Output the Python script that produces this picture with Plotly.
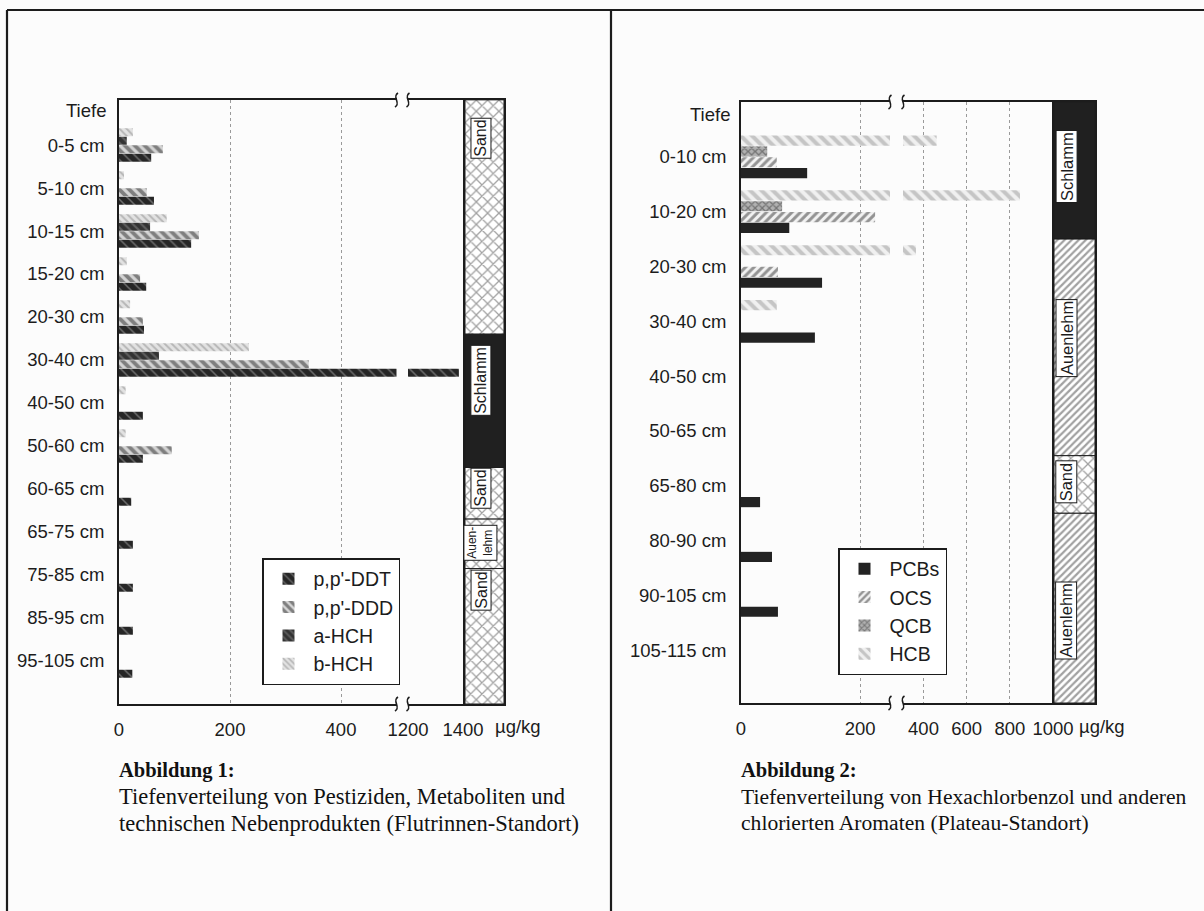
import plotly.graph_objects as go

W, H = 1204, 911

# ---------------- data: left chart (Abbildung 1) ----------------
depth_left = ["0-5 cm", "5-10 cm", "10-15 cm", "15-20 cm", "20-30 cm", "30-40 cm",
              "40-50 cm", "50-60 cm", "60-65 cm", "65-75 cm", "75-85 cm", "85-95 cm",
              "95-105 cm"]
ddt   = [58, 63, 130, 49, 45, 1385, 43, 43, 22, 25, 25, 25, 24]
ddd   = [79, 50, 144, 38, 43, 342, 0, 95, 0, 0, 0, 0, 0]
a_hch = [14, 0, 56, 0, 0, 72, 0, 0, 0, 0, 0, 0, 0]
b_hch = [25, 9, 86, 14, 20, 234, 12, 12, 0, 0, 0, 0, 0]

# soil layers left (in depth-category units)
strata_left_names  = ["Sand", "Schlamm", "Sand", "Auen-<br>lehm", "Sand"]
strata_left_kind   = ["Sand", "Schlamm", "Sand", "Sand", "Sand"]
strata_left_top    = [-1.05, 4.4, 7.5, 8.7, 9.85]
strata_left_bottom = [4.4, 7.5, 8.7, 9.85, 13.0]
strata_left_label  = [-0.16, 5.47, 7.98, 9.26, 10.35]

# ---------------- data: right chart (Abbildung 2) ----------------
depth_right = ["0-10 cm", "10-20 cm", "20-30 cm", "30-40 cm", "40-50 cm", "50-65 cm",
               "65-80 cm", "80-90 cm", "90-105 cm", "105-115 cm"]
pcbs = [111, 81, 136, 124, 0, 0, 32, 52, 62, 0]
ocs  = [60, 225, 62, 0, 0, 0, 0, 0, 0, 0]
qcb  = [44, 69, 0, 0, 0, 0, 0, 0, 0, 0]
hcb  = [461, 847, 365, 60, 0, 0, 0, 0, 0, 0]

strata_right_names  = ["Schlamm", "Auenlehm", "Sand", "Auenlehm"]
strata_right_kind   = ["Schlamm", "Auenlehm", "Sand", "Auenlehm"]
strata_right_top    = [-1.0, 1.5, 5.45, 6.5]
strata_right_bottom = [1.5, 5.45, 6.5, 9.96]
strata_right_label  = [0.18, 3.30, 5.93, 8.45]

# ---------------- styles ----------------
INK = "#1c1c1c"
PAPER = "#fcfcfc"
FONT = "Liberation Sans"
SERIF = "Liberation Serif"

styles_left = {
    "p,p'-DDT": dict(color="#262626", pattern=dict(shape="\\", fgcolor="#b4b4b4", size=7, solidity=0.22, fillmode="overlay")),
    "p,p'-DDD": dict(color="#d4d4d4", pattern=dict(shape="\\", fgcolor="#2a2a2a", size=7, solidity=0.55, fillmode="overlay")),
    "a-HCH":    dict(color="#333333", pattern=dict(shape="\\", fgcolor="#8c8c8c", size=6, solidity=0.35, fillmode="overlay")),
    "b-HCH":    dict(color="#e2e2e2", pattern=dict(shape="\\", fgcolor="#8a8a8a", size=5, solidity=0.4, fillmode="overlay")),
}
styles_right = {
    "PCBs": dict(color="#232323"),
    "OCS":  dict(color="#f2f2f2", pattern=dict(shape="/", fgcolor="#333333", size=6, solidity=0.5, fillmode="overlay")),
    "QCB":  dict(color="#b0b0b0", pattern=dict(shape="x", fgcolor="#383838", size=5, solidity=0.45, fillmode="overlay")),
    "HCB":  dict(color="#f0f0f0", pattern=dict(shape="\\", fgcolor="#9a9a9a", size=8, solidity=0.5, fillmode="overlay")),
}
strata_style = {
    "Sand":     dict(bg="#ffffff", shape="x", fg="#111111", size=8, sol=0.3),
    "Schlamm":  dict(bg="#202020", shape="", fg="#202020", size=8, sol=0.3),
    "Auenlehm": dict(bg="#ffffff", shape="/", fg="#111111", size=5, sol=0.45),
}


def px(p):
    return p / W


def py(p):
    return 1 - p / H


fig = go.Figure()

# ---- left bars (two segments of a broken axis) ----
left_series = [("b-HCH", b_hch), ("a-HCH", a_hch), ("p,p'-DDD", ddd), ("p,p'-DDT", ddt)]
for xa, show in (("x", True), ("x2", False)):
    for name, vals in left_series:
        st = styles_left[name]
        fig.add_trace(go.Bar(
            y=depth_left, x=vals, orientation="h", name=name, xaxis=xa, yaxis="y",
            marker=dict(color=st["color"], pattern=st.get("pattern"), line=dict(width=0)),
            showlegend=show, legend="legend", hoverinfo="skip"))

# ---- right bars ----
right_series = [("HCB", hcb), ("QCB", qcb), ("OCS", ocs), ("PCBs", pcbs)]
for xa, show in (("x4", True), ("x5", False)):
    for name, vals in right_series:
        st = styles_right[name]
        fig.add_trace(go.Bar(
            y=depth_right, x=vals, orientation="h", name=name, xaxis=xa, yaxis="y2",
            marker=dict(color=st["color"], pattern=st.get("pattern"), line=dict(width=0)),
            showlegend=show, legend="legend2", hoverinfo="skip"))


# ---- strata columns ----
def strata_trace(kinds, tops, bottoms, xa, ya):
    return go.Bar(
        x=[0] * len(kinds), base=tops, y=[b - t for t, b in zip(tops, bottoms)],
        width=1.0, xaxis=xa, yaxis=ya, showlegend=False, hoverinfo="skip",
        marker=dict(
            color=[strata_style[k]["bg"] for k in kinds],
            line=dict(width=1, color=INK),
            pattern=dict(
                shape=[strata_style[k]["shape"] for k in kinds],
                fgcolor=[strata_style[k]["fg"] for k in kinds],
                size=[strata_style[k]["size"] for k in kinds],
                solidity=[strata_style[k]["sol"] for k in kinds],
                fillmode="overlay")))


fig.add_trace(strata_trace(strata_left_kind, strata_left_top, strata_left_bottom, "x3", "y3"))
fig.add_trace(strata_trace(strata_right_kind, strata_right_top, strata_right_bottom, "x6", "y6"))

# ---------------- axes ----------------
tickfont = dict(family=FONT, size=18.5, color=INK)
common_x = dict(showline=True, linewidth=2, linecolor=INK, mirror=True, zeroline=False,
                showgrid=True, gridcolor="#9a9a9a", griddash="dot", gridwidth=1.2,
                tickfont=tickfont, ticks="", ticklabelstandoff=8, automargin=False)
strata_x = dict(range=[-0.5, 0.5], showline=True, linewidth=2, linecolor=INK, mirror=True,
                showgrid=False, zeroline=False, showticklabels=False, automargin=False)

yl_dom = [py(704), py(100)]
yr_dom = [py(703), py(102)]

fig.update_layout(
    xaxis=dict(domain=[px(119), px(396.5)], range=[0, 500], anchor="y",
               tickvals=[0, 200, 400], **common_x),
    xaxis2=dict(domain=[px(408), px(463)], range=[1200, 1400], anchor="y",
                tickvals=[1200, 1400], **common_x),
    xaxis3=dict(domain=[px(465), px(504)], anchor="y3", **strata_x),
    yaxis=dict(domain=yl_dom, anchor="x", type="category", categoryorder="array",
               categoryarray=depth_left, range=[13.0, -1.047], showline=True,
               linewidth=2, linecolor=INK, showgrid=False, zeroline=False, ticks="",
               tickfont=tickfont, ticklabelstandoff=9, automargin=False),
    yaxis3=dict(domain=yl_dom, anchor="x3", range=[13.0, -1.047], showline=True,
                linewidth=2, linecolor=INK, mirror=True, showgrid=False,
                zeroline=False, showticklabels=False, automargin=False),
    xaxis4=dict(domain=[px(741), px(890)], range=[0, 250], anchor="y2",
                tickvals=[0, 200], **common_x),
    xaxis5=dict(domain=[px(903), px(1053)], range=[305, 1000], anchor="y2",
                tickvals=[400, 600, 800, 1000], **common_x),
    xaxis6=dict(domain=[px(1054), px(1095)], anchor="y6", **strata_x),
    yaxis2=dict(domain=yr_dom, anchor="x4", type="category", categoryorder="array",
                categoryarray=depth_right, range=[9.96, -1.0], showline=True,
                linewidth=2, linecolor=INK, showgrid=False, zeroline=False, ticks="",
                tickfont=tickfont, ticklabelstandoff=9, automargin=False),
    yaxis6=dict(domain=yr_dom, anchor="x6", range=[9.96, -1.0], showline=True,
                linewidth=2, linecolor=INK, mirror=True, showgrid=False,
                zeroline=False, showticklabels=False, automargin=False),
)

fig.update_layout(
    width=W, height=H, autosize=False,
    margin=dict(l=0, r=0, t=0, b=0, pad=0, autoexpand=False),
    paper_bgcolor=PAPER, plot_bgcolor=PAPER,
    barmode="group", bargap=0.21, bargroupgap=0.06,
    font=dict(family=FONT, color=INK),
    legend=dict(x=px(262), y=py(558), xanchor="left", yanchor="top",
                bgcolor="#ffffff", bordercolor=INK, borderwidth=1.5,
                font=dict(family=FONT, size=19.5, color=INK), traceorder="reversed",
                itemwidth=40, tracegroupgap=0),
    legend2=dict(x=px(838), y=py(548), xanchor="left", yanchor="top",
                 bgcolor="#ffffff", bordercolor=INK, borderwidth=1.5,
                 font=dict(family=FONT, size=19.5, color=INK), traceorder="reversed",
                 itemwidth=40, tracegroupgap=0),
)

# ---------------- annotations ----------------
ann = []
for x0, y0 in ((108, 110), (732, 115)):
    ann.append(dict(text="Tiefe", x=px(x0), y=py(y0), xref="paper", yref="paper",
                    xanchor="right", yanchor="middle", showarrow=False, font=tickfont))
for x0 in (493, 1077):
    ann.append(dict(text="µg/kg", x=px(x0), y=py(726), xref="paper", yref="paper",
                    xanchor="left", yanchor="middle", showarrow=False, font=tickfont))

for name, yc in zip(strata_left_names, strata_left_label):
    two = "<br>" in name
    ann.append(dict(text=name, x=-0.1, y=yc, xref="x3", yref="y3", showarrow=False,
                    textangle=-90, bgcolor="#ffffff", bordercolor=INK, borderwidth=1,
                    borderpad=1, font=dict(family=FONT, size=12 if two else 16, color=INK)))
for name, yc in zip(strata_right_names, strata_right_label):
    ann.append(dict(text=name, x=-0.2, y=yc, xref="x6", yref="y6", showarrow=False,
                    textangle=-90, bgcolor="#ffffff", bordercolor=INK, borderwidth=1,
                    borderpad=1, font=dict(family=FONT, size=16.5, color=INK)))

captions = [
    (117, 22.5, ["<b>Abbildung 1:</b>",
                 "Tiefenverteilung von Pestiziden, Metaboliten und",
                 "technischen Nebenprodukten (Flutrinnen-Standort)"]),
    (739, 21.6, ["<b>Abbildung 2:</b>",
                 "Tiefenverteilung von Hexachlorbenzol und anderen",
                 "chlorierten Aromaten (Plateau-Standort)"]),
]
for x0, fs, lines in captions:
    for i, line in enumerate(lines):
        ann.append(dict(text=line, x=px(x0), y=py(770 + 26.5 * i), xref="paper",
                        yref="paper", xanchor="left", yanchor="middle", showarrow=False,
                        font=dict(family=SERIF, size=20.5 if i == 0 else fs,
                                  color="#111111")))
fig.update_layout(annotations=ann)

# ---------------- frame and axis-break marks ----------------
shapes = []
frame = [((7, 10), (1204, 10)), ((7, 10), (7, 911)), ((611, 10), (611, 911))]
for (xa_, ya_), (xb_, yb_) in frame:
    shapes.append(dict(type="line", xref="paper", yref="paper", x0=px(xa_), y0=py(ya_),
                       x1=px(xb_), y1=py(yb_), line=dict(color=INK, width=2.2)))


def s_mark(cx, cy):
    pts = [(cx - 1.5, cy + 7), (cx + 5, cy + 3), (cx - 5, cy - 3), (cx + 1.5, cy - 7)]
    p = "M {:.5f},{:.5f} C {:.5f},{:.5f} {:.5f},{:.5f} {:.5f},{:.5f}".format(
        px(pts[0][0]), py(pts[0][1]), px(pts[1][0]), py(pts[1][1]),
        px(pts[2][0]), py(pts[2][1]), px(pts[3][0]), py(pts[3][1]))
    return dict(type="path", xref="paper", yref="paper", path=p,
                line=dict(color=INK, width=1.6))


for cx in (396.5, 408):
    for cy in (100, 704):
        shapes.append(s_mark(cx, cy))
for cx in (890, 903):
    for cy in (102, 703):
        shapes.append(s_mark(cx, cy))
fig.update_layout(shapes=shapes)

fig.write_html("out.html", config={"displayModeBar": False, "responsive": False},
               post_script="document.body.style.margin='0';")
